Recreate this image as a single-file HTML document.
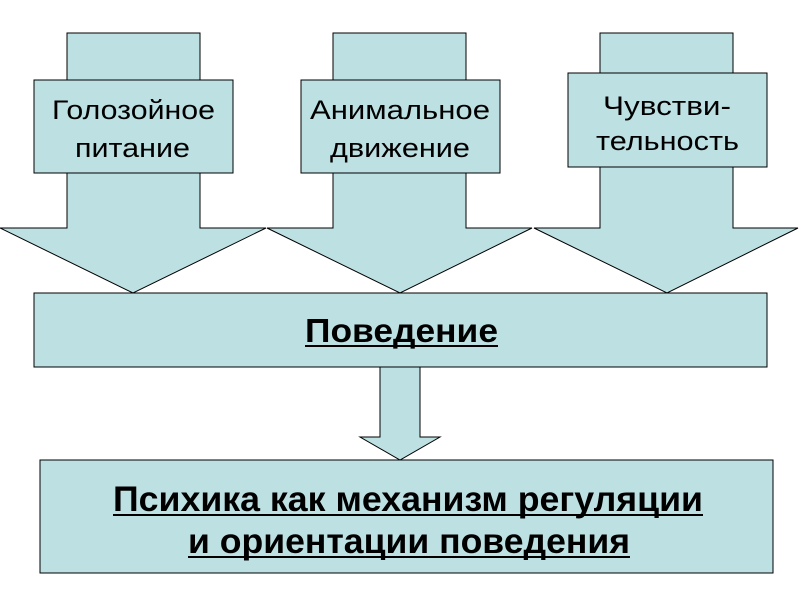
<!DOCTYPE html>
<html><head><meta charset="utf-8"><style>body{margin:0;background:#fff}svg{display:block}</style></head><body>
<svg width="800" height="600" xmlns="http://www.w3.org/2000/svg" font-family="Liberation Sans, sans-serif">
<g fill="#bde0e2" stroke="#000" stroke-width="1">
<polygon points="67,33 200,33 200,228 266,228 133,293 0,228 67,228"/>
<polygon points="333,33 466,33 466,228 532,228 400,293 267,228 333,228"/>
<polygon points="600,33 733,33 733,228 798,228 667,293 534,228 600,228"/>
<rect x="34" y="80" width="199" height="93"/>
<rect x="301" y="80" width="199" height="93"/>
<rect x="568" y="73" width="199" height="94"/>
<rect x="34" y="293" width="733" height="74"/>
<polygon points="380,367 420,367 420,437 440,437 400,460 360,437 380,437"/>
<rect x="40" y="460" width="733" height="113"/>
</g>
<g font-size="27" fill="#000" lengthAdjust="spacingAndGlyphs">
<text x="52" y="119" textLength="163" lengthAdjust="spacingAndGlyphs">Голозойное</text>
<text x="75" y="157" textLength="115" lengthAdjust="spacingAndGlyphs">питание</text>
<text x="310" y="119" textLength="180" lengthAdjust="spacingAndGlyphs">Анимальное</text>
<text x="330" y="157" textLength="140" lengthAdjust="spacingAndGlyphs">движение</text>
<text x="603" y="115" textLength="128" lengthAdjust="spacingAndGlyphs">Чувстви-</text>
<text x="596" y="150" textLength="143" lengthAdjust="spacingAndGlyphs">тельность</text>
</g>
<g font-weight="bold" fill="#000">
<text x="305" y="342" font-size="33" textLength="193" lengthAdjust="spacingAndGlyphs">Поведение</text>
<text x="113" y="511" font-size="35" textLength="590" lengthAdjust="spacingAndGlyphs">Психика как механизм регуляции</text>
<text x="188" y="553" font-size="35" textLength="442" lengthAdjust="spacingAndGlyphs">и ориентации поведения</text>
</g>
<g stroke="#000" stroke-width="2">
<line x1="305" y1="346" x2="498" y2="346"/>
<line x1="113" y1="515" x2="703" y2="515"/>
<line x1="188" y1="557" x2="630" y2="557"/>
</g>
</svg>
</body></html>
